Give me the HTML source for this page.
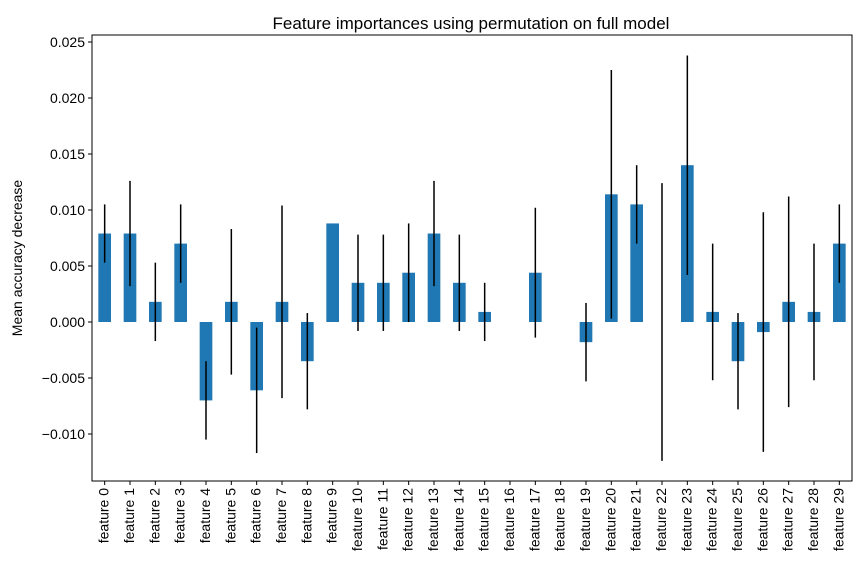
<!DOCTYPE html>
<html><head><meta charset="utf-8"><style>
body{margin:0;background:#fff;}
svg text{font-family:"Liberation Sans","DejaVu Sans",sans-serif;fill:#000;}
</style></head><body>
<svg id="chart" width="864" height="576" xmlns="http://www.w3.org/2000/svg">
<rect width="864" height="576" fill="#fff"/>
<text x="471" y="29" font-size="17" text-anchor="middle">Feature importances using permutation on full model</text>
<text transform="translate(22,258) rotate(-90)" font-size="14" text-anchor="middle">Mean accuracy decrease</text>
<g id="bars"></g><g id="errs"></g><g id="yticks"></g><g id="xticks"></g>
<rect x="92" y="35" width="760" height="446" fill="none" stroke="#000" stroke-width="1"/>
</svg>
<script>
const categories = Array.from({length:30},(_, i)=>'feature '+i);
const importances = [0.0079,0.0079,0.0018,0.0070,-0.0070,0.0018,-0.0061,0.0018,-0.0035,0.0088,0.0035,0.0035,0.0044,0.0079,0.0035,0.0009,0,0.0044,0,-0.0018,0.0114,0.0105,0,0.0140,0.0009,-0.0035,-0.0009,0.0018,0.0009,0.0070];
const errors = [0.0026,0.0047,0.0035,0.0035,0.0035,0.0065,0.0056,0.0086,0.0043,0,0.0043,0.0043,0.0044,0.0047,0.0043,0.0026,0,0.0058,0,0.0035,0.0111,0.0035,0.0124,0.0098,0.0061,0.0043,0.0107,0.0094,0.0061,0.0035];
const yTicks = [-0.010,-0.005,0,0.005,0.010,0.015,0.020,0.025];
const yTickLabels = ['\u22120.010','\u22120.005','0.000','0.005','0.010','0.015','0.020','0.025'];
const NS='http://www.w3.org/2000/svg';
const L=92,R=852,T=35,B=481;
const y=v=>322-v*11200;
const step=(R-L)/categories.length;
const x=i=>L+step*(i+0.5);
function mk(tag,attrs,parent){const e=document.createElementNS(NS,tag);for(const k in attrs)e.setAttribute(k,attrs[k]);document.getElementById(parent).appendChild(e);return e;}
categories.forEach((c,i)=>{
  const v=importances[i], e=errors[i];
  const b=mk('rect',{x:x(i)-step/4,y:Math.min(y(v),y(0)),width:step/2,height:Math.abs(y(v)-y(0)),fill:'#1f77b4'},'bars');
  
  
  if(e>0){const l=mk('line',{x1:x(i),x2:x(i),y1:y(v+e),y2:y(v-e),stroke:'#000','stroke-width':1.5},'errs');
  
  }
  mk('line',{x1:x(i),x2:x(i),y1:B,y2:B+4,stroke:'#000'},'xticks');
  const t=mk('text',{transform:`translate(${x(i)+4},${B+7}) rotate(-90)`,'font-size':14,'text-anchor':'end'},'xticks');
  t.textContent=c;
  
  
});
yTicks.forEach((v,i)=>{
  mk('line',{x1:L-4,x2:L,y1:y(v),y2:y(v),stroke:'#000'},'yticks');
  const t=mk('text',{x:L-7,y:y(v)+5,'font-size':14,'text-anchor':'end'},'yticks');
  t.textContent=yTickLabels[i];
  
  
});
</script>
</body></html>
